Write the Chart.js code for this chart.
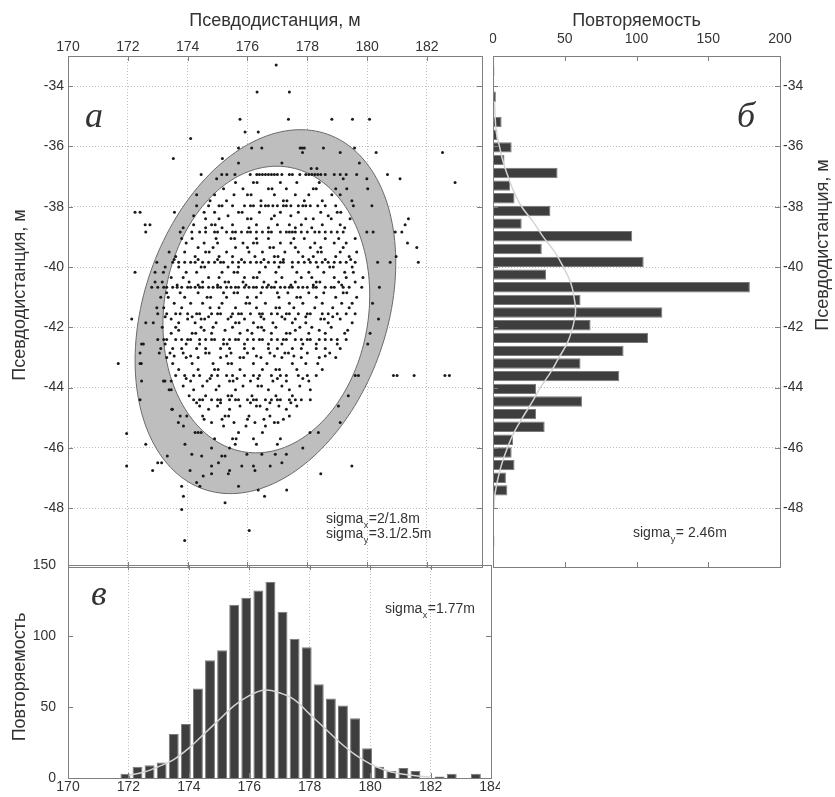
<!DOCTYPE html>
<html>
<head>
<meta charset="utf-8">
<script src="https://cdn.jsdelivr.net/npm/chart.js@4.4.0/dist/chart.umd.min.js"></script>
<style>
  body { margin: 0; background: #fff; width: 835px; height: 797px; position: relative; overflow: hidden; }
  canvas { position: absolute; }
</style>
</head>
<body>
<canvas id="scatter" width="490" height="575" style="left:0;top:0"></canvas>
<canvas id="histY" width="345" height="575" style="left:490px;top:0"></canvas>
<canvas id="histX" width="500" height="257" style="left:0;top:540px"></canvas>
<script>
// tick labels
const posTicksX = [170, 172, 174, 176, 178, 180, 182];
const posTicksXBottom = [170, 172, 174, 176, 178, 180, 182, 184];
const posTicksY = [-34, -36, -38, -40, -42, -44, -46, -48];
const countTicksTop = [0, 50, 100, 150, 200];
const countTicksLeft = [0, 50, 100, 150];

// histogram along x (bin centres, counts)
const xBins = [171.9, 172.3, 172.7, 173.1, 173.5, 173.9, 174.3, 174.7, 175.1, 175.5,
  175.9, 176.3, 176.7, 177.1, 177.5, 177.9, 178.3, 178.7, 179.1, 179.5,
  179.9, 180.3, 180.7, 181.1, 181.5, 181.9, 182.3, 182.7, 183.1, 183.5];
const xCounts = [3, 8, 9, 11, 31, 38, 63, 83, 90, 122,
  127, 132, 138, 117, 98, 92, 66, 56, 51, 42,
  21, 8, 5, 7, 5, 0, 1, 3, 0, 3];

// fitted curve along x
const xCurvePos = [172, 172.5, 173, 173.5, 174, 174.5, 175, 175.5, 176, 176.5, 177,
  177.5, 178, 178.5, 179, 179.5, 180, 180.5, 181, 181.5, 182];
const xCurveVal = [2, 4, 8, 13, 21, 31, 41, 51, 58, 62, 60,
  55, 45, 35, 25, 16.5, 10, 5.5, 3, 1.5, 0.7];

// histogram along y (bin centres, counts)
const yBins = [-33.5, -33.92, -34.35, -34.77, -35.19, -35.61, -36.03, -36.45, -36.88, -37.3,
  -37.72, -38.14, -38.56, -38.98, -39.4, -39.83, -40.25, -40.67, -41.09, -41.51,
  -41.93, -42.35, -42.78, -43.2, -43.62, -44.04, -44.46, -44.88, -45.3, -45.73,
  -46.15, -46.57, -46.99, -47.41, -47.83, -48.25, -48.68, -49.1, -49.52];
const yCounts = [1, 0, 2, 0, 6, 3, 13, 8, 45, 12,
  15, 40, 20, 97, 34, 105, 37, 179, 61, 118,
  68, 108, 91, 61, 88, 30, 62, 30, 36, 14,
  13, 15, 9, 10, 1, 0.5, 0.5, 1, 0.5];

// fitted curve along y
const yCurvePos = [-34.5, -35, -35.5, -36, -36.5, -37, -37.5, -38, -38.5, -39, -39.5, -40,
  -40.5, -41, -41.5, -42, -42.5, -43, -43.5, -44, -44.5, -45, -45.5, -46, -46.5, -47, -47.5, -48];
const yCurveVal = [1, 1.5, 2.2, 4.5, 7, 10.5, 14.5, 20, 28, 35, 43, 49,
  54, 56.5, 57.5, 55.5, 52, 46, 40, 33, 27, 20.5, 14.5, 10, 6.3, 3.5, 1.5, 0.5];

// error ellipses (centre, half axes in m, tilt in degrees)
const outerEllipse = { cx: 176.6, cy: -41.48, a: 6.24, b: 4.06, angle: 70.5 };
const innerEllipse = { cx: 176.63, cy: -41.41, a: 4.78, b: 3.42, angle: 81.4 };

// scatter points, grouped by rows of equal y
const scatterRows = [
  [-33.3, [176.96]],
  [-34.19, [176.32, 177.4]],
  [-35.1, [175.75, 177.37, 178.82, 179.51, 180.08]],
  [-35.52, [175.92, 176.36]],
  [-35.74, [174.1]],
  [-36.05, [175.7, 176.14, 176.48, 177.76, 177.83, 177.9, 178.54, 179.58]],
  [-36.2, [179.1, 182.52, 180.3, 177.84]],
  [-36.4, [173.52, 175.16]],
  [-36.55, [177.15, 175.7, 179.74]],
  [-36.73, [178.13, 178.32]],
  [-36.93, [174.45, 175.14, 175.31, 175.58, 176.09, 176.31, 176.4, 176.5, 176.6, 176.7, 176.8, 176.9, 177.0, 177.15,
    177.4, 177.5, 177.75, 177.95, 178.05, 178.15, 178.25, 178.35, 178.45, 178.6, 178.9, 179.1, 179.3, 179.65, 180.68]],
  [-37.07, [174.97, 179.2, 179.99, 181.1]],
  [-37.2, [175.6, 176.2, 176.32, 177.1, 177.65, 178.4, 182.94]],
  [-37.4, [175.2, 175.85, 176.7, 176.82, 177.3, 178.2, 178.3, 178.95, 179.32, 180.02]],
  [-37.6, [174.3, 174.9, 175.55, 176.0, 176.12, 176.9, 177.6, 178.05, 178.82, 179.1]],
  [-37.8, [174.75, 175.3, 176.45, 177.2, 177.32, 177.9, 178.5, 179.49]],
  [-37.97, [174.3, 174.7, 175.05, 175.15, 175.5, 175.9, 176.1, 176.2, 176.45, 176.6, 176.7, 176.85, 177.0, 177.2,
    177.3, 177.45, 177.7, 177.85, 177.95, 178.1, 178.35, 178.6, 178.95, 179.54, 180.16]],
  [-38.18, [172.24, 172.41, 173.56, 174.55, 174.9, 175.7, 175.82, 176.4, 177.1, 177.7, 178.45, 179.0, 179.12]],
  [-38.3, [174.2, 175.35, 176.9, 177.45, 178.7]],
  [-38.4, [174.6, 175.05, 176.0, 176.12, 176.8, 177.95, 178.2, 178.8, 179.43, 181.38]],
  [-38.6, [172.58, 172.74, 174.2, 174.8, 174.92, 175.5, 176.3, 177.0, 177.4, 177.8, 178.5, 179.1, 181.27]],
  [-38.7, [173.85, 174.6, 175.15, 176.05, 176.7, 177.6, 178.15, 179.25]],
  [-38.84, [172.6, 173.75, 174.14, 174.4, 174.6, 174.9, 175.0, 175.3, 175.5, 175.6, 175.8, 176.0, 176.1, 176.3,
    176.5, 176.7, 176.8, 177.1, 177.3, 177.4, 177.5, 177.6, 177.8, 178.0, 178.25, 178.4, 178.6, 178.8, 179.0,
    179.2, 179.99, 180.2, 180.94, 181.16]],
  [-39.05, [173.8, 174.15, 174.95, 175.45, 175.57, 176.3, 176.7, 177.55, 177.9, 178.6, 179.05, 179.6]],
  [-39.2, [173.95, 174.55, 175.0, 175.85, 176.2, 176.32, 177.1, 177.45, 178.25, 178.9, 179.3, 181.35]],
  [-39.35, [174.35, 174.85, 175.6, 176.0, 176.75, 176.87, 177.6, 178.1, 178.45, 179.2, 181.66]],
  [-39.5, [173.38, 173.9, 174.6, 174.72, 175.3, 176.05, 176.5, 177.25, 177.7, 178.35, 178.47, 179.1, 179.65]],
  [-39.65, [173.6, 174.25, 175.05, 175.5, 176.25, 176.9, 177.02, 177.85, 178.2, 178.95, 179.4, 180.97]],
  [-39.75, [173.55, 174.35, 175.0, 175.8, 176.55, 177.2, 178.05, 178.6, 179.45]],
  [-39.84, [172.97, 173.5, 173.7, 173.9, 174.1, 174.25, 174.5, 174.7, 174.9, 175.1, 175.2, 175.5, 175.7, 175.9,
    176.1, 176.3, 176.45, 176.7, 176.9, 177.1, 177.2, 177.5, 177.7, 177.9, 178.1, 178.3, 178.5, 178.7, 178.9,
    179.1, 179.3, 179.6, 180.35, 180.77, 181.71]],
  [-40.0, [173.25, 173.7, 174.45, 174.57, 175.35, 175.7, 176.6, 177.05, 177.5, 178.35, 178.75, 178.87, 179.5]],
  [-40.17, [172.24, 172.91, 173.19, 173.95, 174.3, 175.15, 175.55, 175.67, 176.4, 176.95, 177.65, 178.05, 178.55,
    179.25, 179.54]],
  [-40.35, [173.45, 173.85, 174.7, 175.05, 175.9, 176.2, 176.32, 177.15, 177.8, 178.15, 178.9, 179.3, 179.86]],
  [-40.5, [172.91, 173.15, 174.05, 174.5, 175.25, 175.37, 175.85, 176.55, 176.95, 177.6, 178.3, 178.42, 179.05, 179.6]],
  [-40.6, [173.65, 174.35, 175.0, 175.95, 176.7, 177.45, 178.2, 179.15]],
  [-40.67, [172.8, 173.0, 173.2, 173.3, 173.5, 173.65, 173.8, 174.0, 174.1, 174.25, 174.4, 174.5, 174.7, 174.85,
    175.0, 175.1, 175.3, 175.45, 175.6, 175.7, 175.9, 176.05, 176.2, 176.3, 176.5, 176.65, 176.8, 176.9,
    177.1, 177.25, 177.4, 177.5, 177.7, 177.85, 178.0, 178.2, 178.3, 178.6, 178.8, 178.9, 179.2, 179.4,
    179.82, 180.41]],
  [-40.85, [173.3, 173.75, 174.35, 175.2, 175.55, 175.67, 176.45, 177.0, 177.35, 178.05, 178.55, 179.2, 179.32]],
  [-41.0, [173.1, 173.35, 173.9, 174.65, 174.77, 175.3, 176.0, 176.3, 177.05, 177.65, 177.77, 178.3, 178.95, 179.65]],
  [-41.2, [173.55, 174.1, 174.5, 175.15, 175.95, 176.07, 176.6, 177.4, 177.85, 178.5, 179.15, 179.5, 180.18]],
  [-41.35, [172.97, 173.2, 173.8, 174.75, 175.05, 175.6, 176.3, 176.95, 177.07, 177.55, 178.25, 178.85, 179.4]],
  [-41.55, [173.0, 173.3, 173.6, 173.75, 174.0, 174.3, 174.4, 174.8, 175.0, 175.1, 175.5, 175.7, 175.8, 176.1,
    176.4, 176.5, 176.8, 177.0, 177.3, 177.4, 177.7, 178.0, 178.1, 178.5, 178.7, 179.0, 179.3, 179.6]],
  [-41.65, [173.25, 174.15, 174.7, 175.45, 176.45, 177.15, 177.95, 178.85]],
  [-41.72, [172.13, 173.45, 174.0, 174.45, 174.57, 175.35, 175.9, 176.55, 177.25, 177.6, 178.45, 178.57, 179.1, 180.38]],
  [-41.85, [172.6, 172.85, 173.7, 174.25, 174.95, 175.6, 175.72, 176.2, 176.85, 177.5, 177.95, 178.7, 179.5]],
  [-42.0, [173.15, 173.6, 174.45, 174.85, 175.5, 176.35, 176.47, 176.95, 177.75, 178.15, 178.8]],
  [-42.1, [173.7, 174.55, 175.25, 176.0, 176.55, 177.6, 178.4, 179.35]],
  [-42.2, [173.45, 174.15, 174.27, 174.8, 175.75, 176.15, 176.8, 177.3, 177.42, 178.05, 178.6, 179.25, 180.1]],
  [-42.4, [173.0, 173.2, 173.3, 173.6, 173.8, 174.0, 174.1, 174.4, 174.6, 174.8, 174.9, 175.2, 175.4, 175.6,
    175.7, 176.0, 176.2, 176.4, 176.5, 176.8, 177.0, 177.2, 177.3, 177.6, 177.8, 178.0, 178.1, 178.4, 178.6,
    178.8, 179.0, 179.3]],
  [-42.55, [172.46, 172.52, 173.25, 173.95, 174.4, 175.2, 175.32, 175.9, 176.7, 177.15, 177.85, 178.3, 179.0, 180.02]],
  [-42.7, [173.1, 173.5, 173.8, 174.3, 174.6, 175.1, 175.4, 175.9, 176.2, 176.7, 177.0, 177.5, 177.8, 178.3,
    178.6, 179.1]],
  [-42.85, [172.41, 173.05, 173.41, 173.85, 174.6, 174.72, 175.45, 176.0, 176.75, 177.25, 177.37, 178.0, 178.75]],
  [-42.95, [173.55, 174.1, 175.3, 176.3, 176.9, 177.55, 178.6]],
  [-43.0, [173.3, 173.95, 174.35, 175.1, 175.75, 175.87, 176.45, 177.15, 177.8, 178.4, 178.95]],
  [-43.2, [171.68, 172.41, 172.45, 173.5, 174.15, 174.85, 175.35, 175.47, 176.2, 176.65, 177.5, 177.95, 178.35]],
  [-43.4, [173.7, 174.35, 174.9, 175.02, 175.75, 176.5, 176.95, 177.07, 177.65, 178.5]],
  [-43.6, [173.6, 173.9, 174.2, 174.4, 174.8, 175.0, 175.3, 175.5, 175.9, 176.2, 176.4, 176.8, 177.1, 177.3,
    177.7, 178.0, 178.3, 179.6, 179.71, 180.88, 181.0, 181.57, 182.6, 182.75]],
  [-43.7, [173.95, 174.75, 175.65, 176.35, 177.0, 177.85]],
  [-43.78, [172.46, 173.19, 173.24, 173.45, 174.1, 174.65, 175.4, 175.52, 176.1, 176.85, 177.3, 178.05]],
  [-43.95, [173.85, 174.5, 175.05, 175.85, 176.35, 176.47, 177.15, 177.75]],
  [-44.07, [173.38, 173.45, 174.2, 174.95, 175.6, 176.7, 177.4, 178.1]],
  [-44.27, [174.05, 174.6, 175.35, 175.47, 176.15, 176.95, 177.5, 179.37]],
  [-44.4, [172.41, 174.2, 174.4, 174.5, 174.8, 175.0, 175.1, 175.4, 175.6, 175.7, 176.0, 176.2, 176.3, 176.6,
    176.8, 177.0, 177.1, 177.4, 177.6, 177.8, 178.1]],
  [-44.5, [174.3, 175.1, 176.1, 176.75, 177.45]],
  [-44.61, [174.4, 175.0, 175.75, 176.3, 176.42, 177.05, 177.65, 179.04]],
  [-44.72, [173.47, 173.49, 174.7, 175.4, 176.65, 177.3]],
  [-44.94, [173.75, 173.97, 174.5, 175.25, 175.37, 176.05, 176.75, 177.4]],
  [-45.05, [174.55, 175.15, 176.0, 176.55, 177.2]],
  [-45.16, [173.69, 174.8, 175.55, 176.25, 176.9, 177.02, 179.1]],
  [-45.27, [173.86, 175.2, 175.95, 176.6]],
  [-45.49, [174.25, 174.35, 174.45, 175.7, 176.5, 178.09, 178.37]],
  [-45.52, [171.96]],
  [-45.7, [174.9, 175.5, 175.62, 176.2, 177.1]],
  [-45.88, [172.6, 173.91, 175.59, 176.3, 177.0]],
  [-46.0, [175.4, 174.8, 177.85]],
  [-46.21, [174.14, 175.98, 176.48, 176.93, 177.3]],
  [-46.27, [175.14, 175.25, 174.47, 173.32]],
  [-46.49, [175.03, 177.15, 173.0, 173.13]],
  [-46.6, [171.96, 174.8, 175.81, 176.2, 176.76, 179.49]],
  [-46.75, [172.83, 174.08, 175.4, 176.25]],
  [-46.86, [174.8, 175.36, 178.45]],
  [-46.93, [174.52]],
  [-47.15, [174.3]],
  [-47.27, [174.41, 175.7, 173.8]],
  [-47.4, [176.36, 177.31]],
  [-47.6, [173.86, 176.57]],
  [-47.82, [175.25]],
  [-48.04, [173.8]],
  [-48.74, [176.06]],
  [-49.07, [173.9]]
];

const sans = '"Liberation Sans", Arial, sans-serif';
const serif = '"Liberation Serif", "Times New Roman", serif';
Chart.defaults.font.family = sans;
Chart.defaults.color = '#333';

const gridColor = '#bdbdbd';
const frameColor = '#7f7f7f';

// fixed axis box sizes so the three panels line up
const fixBox = size => s => {
  if (s.isHorizontal()) s.height = size; else s.width = size;
  s.paddingLeft = s.paddingRight = s.paddingTop = s.paddingBottom = 0;
};
const useTicks = list => s => { s.ticks = list.map(v => ({ value: v })); };

// box around plot + inward tick marks (matlab style)
const frame = {
  id: 'frame',
  afterDatasetsDraw(chart) {
    const { ctx, chartArea: a, scales } = chart;
    ctx.save();
    ctx.strokeStyle = frameColor;
    ctx.lineWidth = 1;
    ctx.beginPath();
    Object.values(scales).forEach(s => {
      s.ticks.forEach(t => {
        const p = Math.round(s.getPixelForValue(t.value)) + 0.5;
        if (s.isHorizontal()) {
          ctx.moveTo(p, a.top); ctx.lineTo(p, a.top + 5);
          ctx.moveTo(p, a.bottom); ctx.lineTo(p, a.bottom - 5);
        } else {
          ctx.moveTo(a.left, p); ctx.lineTo(a.left + 5, p);
          ctx.moveTo(a.right, p); ctx.lineTo(a.right - 5, p);
        }
      });
    });
    ctx.stroke();
    ctx.strokeRect(Math.round(a.left) + 0.5, Math.round(a.top) + 0.5,
      Math.round(a.right - a.left), Math.round(a.bottom - a.top));
    ctx.restore();
  }
};

const ellipses = {
  id: 'ellipses',
  beforeDatasetsDraw(chart) {
    const { ctx, chartArea: a, scales: { x, y } } = chart;
    ctx.save();
    ctx.beginPath();
    ctx.rect(a.left, a.top, a.right - a.left, a.bottom - a.top);
    ctx.clip();
    [[outerEllipse, '#bebebe'], [innerEllipse, '#ffffff']].forEach(([e, fill]) => {
      const th = e.angle * Math.PI / 180;
      ctx.beginPath();
      for (let i = 0; i <= 180; i++) {
        const t = i / 180 * 2 * Math.PI;
        const dx = e.a * Math.cos(t) * Math.cos(th) - e.b * Math.sin(t) * Math.sin(th);
        const dy = e.a * Math.cos(t) * Math.sin(th) + e.b * Math.sin(t) * Math.cos(th);
        const px = x.getPixelForValue(e.cx + dx);
        const py = y.getPixelForValue(e.cy + dy);
        if (i) ctx.lineTo(px, py); else ctx.moveTo(px, py);
      }
      ctx.closePath();
      ctx.fillStyle = fill;
      ctx.fill();
      ctx.strokeStyle = '#6a6a6a';
      ctx.lineWidth = 1;
      ctx.stroke();
    });
    ctx.restore();
  }
};

// free text: panel letters, sigma notes, vertical axis titles
function notes(items) {
  return {
    id: 'notes',
    afterDraw(chart) {
      const ctx = chart.ctx;
      items.forEach(it => {
        ctx.save();
        ctx.fillStyle = '#333';
        ctx.translate(it.x, it.y);
        if (it.rotate) ctx.rotate(it.rotate);
        ctx.font = it.font;
        ctx.textAlign = it.align || 'left';
        ctx.textBaseline = it.baseline || 'alphabetic';
        if (it.sub) {
          ctx.fillText('sigma', 0, 0);
          let w = ctx.measureText('sigma').width + 0.5;
          ctx.font = '9px ' + sans;
          ctx.fillText(it.sub, w, 5);
          w += ctx.measureText(it.sub).width + 0.5;
          ctx.font = it.font;
          ctx.fillText(it.text, w, 0);
        } else {
          ctx.fillText(it.text, 0, 0);
        }
        ctx.restore();
      });
    }
  };
}

const tickFont = { size: 14 };
const titleFont = { size: 18 };
const common = {
  responsive: false,
  animation: false,
  events: [],
  plugins: { legend: { display: false }, tooltip: { enabled: false } }
};

// panel a: scatter with ellipses
const dots = [];
scatterRows.forEach(([y, xs]) => xs.forEach(x => dots.push({ x, y })));

new Chart(document.getElementById('scatter'), {
  type: 'scatter',
  data: {
    datasets: [{
      data: dots,
      pointRadius: 1.5,
      pointHoverRadius: 1.5,
      pointBackgroundColor: '#1a1a1a',
      pointBorderWidth: 0
    }]
  },
  options: {
    ...common,
    layout: { padding: { left: 0, top: 0, right: 8, bottom: 8 } },
    scales: {
      x: {
        type: 'linear', position: 'top', min: 170, max: 183.84,
        afterFit: fixBox(56), afterBuildTicks: useTicks(posTicksX),
        grid: { color: gridColor, drawTicks: false },
        border: { display: false, dash: [1, 2] },
        ticks: { padding: 0, font: tickFont, autoSkip: false, maxRotation: 0, callback: v => String(v) },
        title: { display: true, text: 'Псевдодистанция, м', font: titleFont, padding: { top: 10, bottom: 0 } }
      },
      y: {
        type: 'linear', position: 'left', min: -49.95, max: -33,
        afterFit: fixBox(68), afterBuildTicks: useTicks(posTicksY),
        grid: { color: gridColor, drawTicks: false },
        border: { display: false, dash: [1, 2] },
        ticks: { padding: 4, font: tickFont, autoSkip: false, callback: v => String(v) }
      }
    }
  },
  plugins: [ellipses, frame, notes([
    { text: 'а', x: 85, y: 127, font: 'italic 36px ' + serif },
    { sub: 'x', text: '=2/1.8m', x: 326, y: 523, font: '14px ' + sans },
    { sub: 'y', text: '=3.1/2.5m', x: 326, y: 538, font: '14px ' + sans },
    { text: 'Псевдодистанция, м', x: 20, y: 295, rotate: -Math.PI / 2, align: 'center', baseline: 'middle', font: '18px ' + sans }
  ])]
});

// panel б: histogram along y
new Chart(document.getElementById('histY'), {
  type: 'bar',
  data: {
    datasets: [
      {
        type: 'line',
        data: yCurvePos.map((p, i) => ({ x: yCurveVal[i], y: p })),
        borderColor: '#d4d4d4', borderWidth: 1.5, pointRadius: 0, tension: 0.4, order: 0
      },
      {
        data: yBins.map((p, i) => ({ x: yCounts[i], y: p })),
        backgroundColor: '#3e3e3e', borderColor: '#7a7a7a', borderWidth: 1,
        categoryPercentage: 1, barPercentage: 0.82, order: 1
      }
    ]
  },
  options: {
    ...common,
    indexAxis: 'y',
    layout: { padding: { left: 3, top: 0, right: 0, bottom: 8 } },
    scales: {
      x: {
        type: 'linear', position: 'top', min: 0, max: 200,
        afterFit: fixBox(56), afterBuildTicks: useTicks(countTicksTop),
        grid: { display: false },
        ticks: { padding: 0, font: tickFont, autoSkip: false, maxRotation: 0 },
        title: { display: true, text: 'Повторяемость', font: titleFont, padding: { top: 10, bottom: 0 } }
      },
      y: {
        type: 'linear', position: 'right', min: -49.95, max: -33, offset: false,
        afterFit: fixBox(55), afterBuildTicks: useTicks(posTicksY),
        grid: { color: gridColor, drawTicks: false, offset: false },
        border: { display: false, dash: [1, 2] },
        ticks: { padding: 3, font: tickFont, autoSkip: false, callback: v => String(v) }
      }
    }
  },
  plugins: [frame, notes([
    { text: 'б', x: 247, y: 127, font: 'italic 36px ' + serif },
    { sub: 'y', text: '= 2.46m', x: 143, y: 537, font: '14px ' + sans },
    { text: 'Псевдодистанция, м', x: 333, y: 245, rotate: -Math.PI / 2, align: 'center', baseline: 'middle', font: '18px ' + sans }
  ])]
});

// panel в: histogram along x
new Chart(document.getElementById('histX'), {
  type: 'bar',
  data: {
    datasets: [
      {
        type: 'line',
        data: xCurvePos.map((p, i) => ({ x: p, y: xCurveVal[i] })),
        borderColor: '#d4d4d4', borderWidth: 1.5, pointRadius: 0, tension: 0.4, order: 0
      },
      {
        data: xBins.map((p, i) => ({ x: p, y: xCounts[i] })),
        backgroundColor: '#3e3e3e', borderColor: '#7a7a7a', borderWidth: 1,
        categoryPercentage: 1, barPercentage: 0.82, order: 1
      }
    ]
  },
  options: {
    ...common,
    layout: { padding: { left: 0, top: 25, right: 9, bottom: 0 } },
    scales: {
      x: {
        type: 'linear', position: 'bottom', min: 170, max: 184, offset: false,
        afterFit: fixBox(19), afterBuildTicks: useTicks(posTicksXBottom),
        grid: { color: gridColor, drawTicks: false, offset: false },
        border: { display: false, dash: [1, 2] },
        ticks: { padding: 1, font: tickFont, autoSkip: false, maxRotation: 0 }
      },
      y: {
        type: 'linear', position: 'left', min: 0, max: 150,
        afterFit: fixBox(68), afterBuildTicks: useTicks(countTicksLeft),
        grid: { display: false },
        ticks: { padding: 4, font: tickFont, autoSkip: false }
      }
    }
  },
  plugins: [frame, notes([
    { text: 'в', x: 91, y: 65, font: 'italic 36px ' + serif },
    { sub: 'x', text: '=1.77m', x: 385, y: 73, font: '14px ' + sans },
    { text: 'Повторяемость', x: 20, y: 137, rotate: -Math.PI / 2, align: 'center', baseline: 'middle', font: '18px ' + sans }
  ])]
});
</script>
</body>
</html>
